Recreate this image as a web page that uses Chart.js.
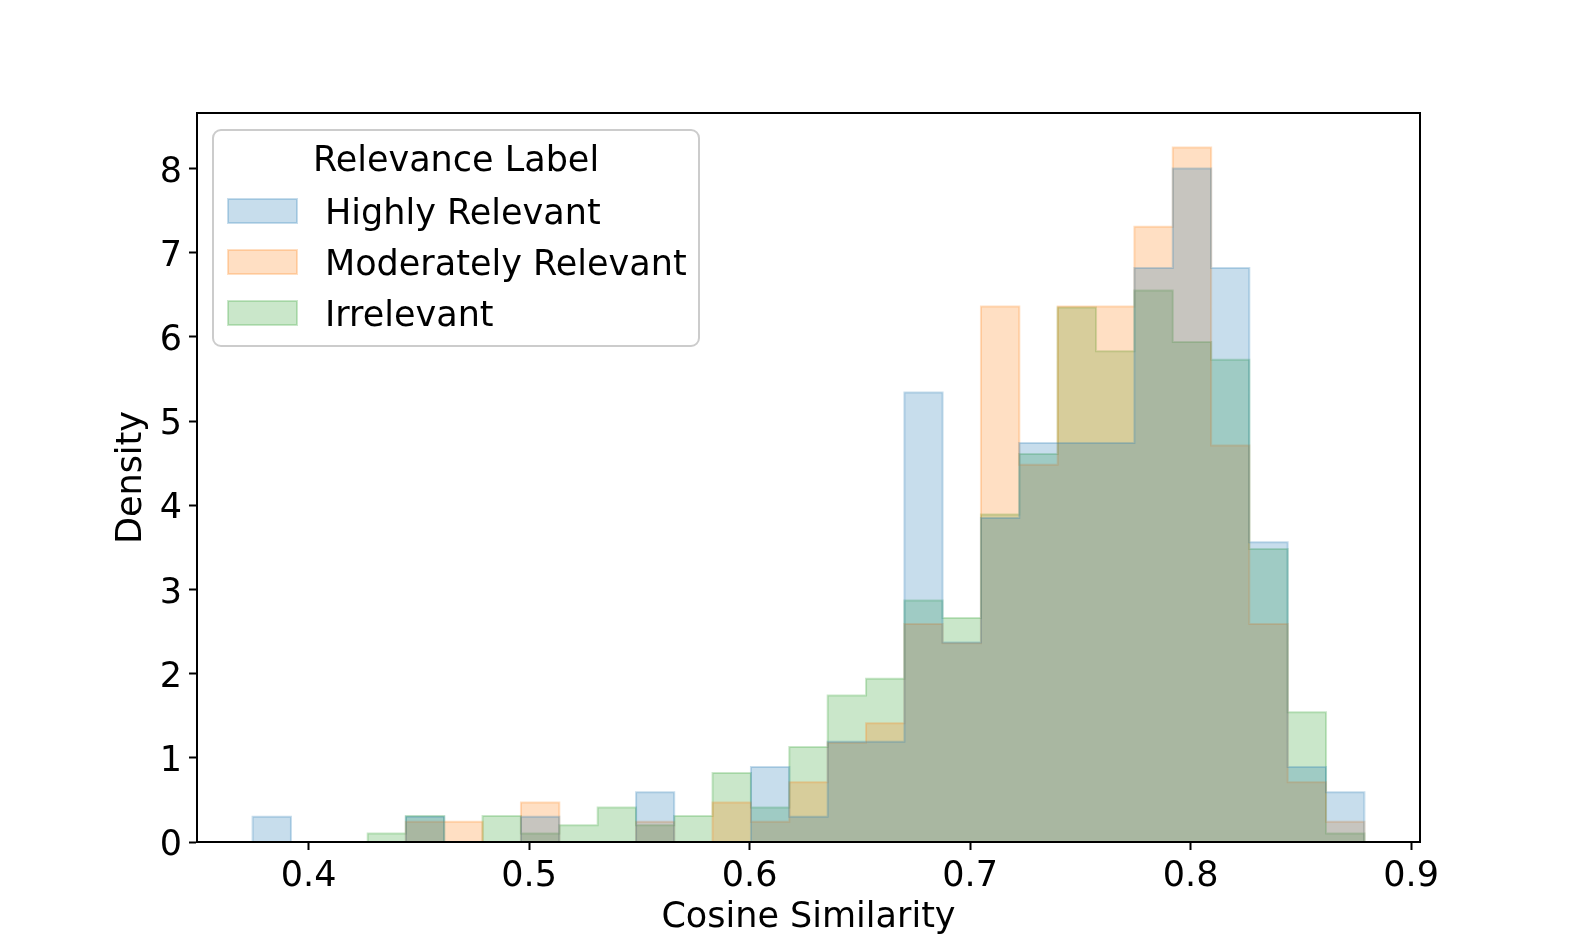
<!DOCTYPE html>
<html>
<head>
<meta charset="utf-8">
<script src="https://cdn.jsdelivr.net/npm/chart.js@4.4.1/dist/chart.umd.min.js"></script>
<style>
	html, body { margin: 0; padding: 0; background: #fff; }
	#wrap { width: 1578px; height: 947px; position: relative; }
</style>
</head>
<body>
<div id="wrap"><canvas id="hist"></canvas></div>
<script>
// bin edges of the histogram (cosine similarity)
let binEdges = [0.3746, 0.3920, 0.4094, 0.4268, 0.4441, 0.4615, 0.4789, 0.4963, 0.5137, 0.5311,
	0.5485, 0.5658, 0.5832, 0.6006, 0.6180, 0.6354, 0.6528, 0.6702, 0.6875, 0.7049,
	0.7223, 0.7397, 0.7571, 0.7745, 0.7919, 0.8093, 0.8266, 0.8440, 0.8614, 0.8788]

let seriesNames = ['Highly Relevant', 'Moderately Relevant', 'Irrelevant']

// density per bin
let highly = [0.30, 0, 0, 0, 0.30, 0, 0, 0.30, 0, 0,
	0.59, 0, 0, 0.89, 0.30, 1.19, 1.19, 5.34, 2.37, 3.85,
	4.74, 4.74, 4.74, 6.82, 8.00, 6.82, 3.56, 0.89, 0.59]
let moderately = [0, 0, 0, 0, 0.24, 0.24, 0, 0.47, 0, 0,
	0.24, 0, 0.47, 0.24, 0.71, 1.18, 1.41, 2.59, 2.36, 6.36,
	4.48, 6.36, 6.36, 7.31, 8.25, 4.71, 2.59, 0.71, 0.24]
let irrelevant = [0, 0, 0, 0.10, 0.31, 0, 0.31, 0.10, 0.20, 0.41,
	0.20, 0.31, 0.82, 0.41, 1.13, 1.74, 1.94, 2.87, 2.66, 3.89,
	4.61, 6.35, 5.83, 6.55, 5.94, 5.73, 3.48, 1.54, 0.10]

let xTicks = [0.4, 0.5, 0.6, 0.7, 0.8, 0.9]
let yTicks = [0, 1, 2, 3, 4, 5, 6, 7, 8]

let colors = ['31,119,180', '255,127,14', '44,160,44']
let font = 'DejaVu Sans'
let fsize = 35

let stepPoints = h => {
	let last = binEdges[binEdges.length - 1]
	let pts = [{ x: binEdges[0], y: 0 }]
	h.forEach((v, i) => pts.push({ x: binEdges[i], y: v }))
	pts.push({ x: last, y: h[h.length - 1] })
	pts.push({ x: last, y: 0 })
	return pts
}

let frame = {
	id: 'frame',
	afterDatasetsDraw: chart => {
		let { ctx, chartArea: a } = chart
		ctx.save()
		ctx.strokeStyle = '#000'
		ctx.lineWidth = 2
		ctx.strokeRect(a.left, a.top, a.right - a.left, a.bottom - a.top)
		ctx.restore()
	}
}

let boxLegend = {
	id: 'boxLegend',
	afterDraw: chart => {
		let ctx = chart.ctx
		let x = 213, y = 130, w = 486, h = 216, r = 8
		ctx.save()
		ctx.beginPath()
		ctx.roundRect(x, y, w, h, r)
		ctx.fillStyle = 'rgba(255,255,255,0.8)'
		ctx.fill()
		ctx.strokeStyle = '#cccccc'
		ctx.lineWidth = 2
		ctx.stroke()
		ctx.font = fsize + 'px "' + font + '"'
		ctx.fillStyle = '#000'
		ctx.textBaseline = 'middle'
		ctx.textAlign = 'center'
		ctx.fillText('Relevance Label', x + w / 2, 162)
		ctx.textAlign = 'left'
		seriesNames.forEach((name, i) => {
			let cy = 211 + i * 51
			ctx.fillStyle = 'rgba(' + colors[i] + ',0.25)'
			ctx.fillRect(228, cy - 12, 69, 24)
			ctx.strokeStyle = 'rgba(' + colors[i] + ',0.25)'
			ctx.lineWidth = 2
			ctx.strokeRect(228, cy - 12, 69, 24)
			ctx.fillStyle = '#000'
			ctx.fillText(name, 325, cy + 4)
		})
		ctx.restore()
	}
}

let makeSet = (i, h) => ({
	label: seriesNames[i],
	data: stepPoints(h),
	stepped: true,
	fill: 'origin',
	backgroundColor: 'rgba(' + colors[i] + ',0.25)',
	borderColor: 'rgba(' + colors[i] + ',0.25)',
	borderWidth: 2,
	pointRadius: 0
})

new Chart(document.getElementById('hist'), {
	type: 'line',
	data: {
		datasets: [makeSet(0, highly), makeSet(1, moderately), makeSet(2, irrelevant)]
	},
	options: {
		responsive: true,
		maintainAspectRatio: false,
		animation: false,
		layout: { padding: { left: 0, right: 158, top: 113, bottom: 0 } },
		plugins: {
			legend: { display: false },
			tooltip: { enabled: false }
		},
		scales: {
			x: {
				type: 'linear',
				min: 0.34939,
				max: 0.90401,
				afterBuildTicks: s => { s.ticks = xTicks.map(v => ({ value: v })) },
				afterFit: s => { s.height = 105 },
				grid: { drawOnChartArea: false, drawTicks: true, tickLength: 8, color: '#000', tickWidth: 2 },
				border: { display: true, color: '#000', width: 2 },
				ticks: {
					padding: 6,
					color: '#000',
					font: { family: font, size: fsize },
					callback: v => v.toFixed(1)
				},
				title: {
					display: true,
					text: 'Cosine Similarity',
					color: '#000',
					font: { family: font, size: fsize },
					padding: { top: 0, bottom: 8 }
				}
			},
			y: {
				min: 0,
				max: 8.66,
				afterBuildTicks: s => { s.ticks = yTicks.map(v => ({ value: v })) },
				afterFit: s => { s.width = 197 },
				grid: { drawOnChartArea: false, drawTicks: true, tickLength: 8, color: '#000', tickWidth: 2 },
				border: { display: true, color: '#000', width: 2 },
				ticks: {
					padding: 7,
					labelOffset: 4,
					color: '#000',
					font: { family: font, size: fsize },
					callback: v => String(v)
				},
				title: {
					display: true,
					text: 'Density',
					color: '#000',
					font: { family: font, size: fsize },
					padding: { top: 111, bottom: 0 }
				}
			}
		}
	},
	plugins: [frame, boxLegend]
})
</script>
</body>
</html>
